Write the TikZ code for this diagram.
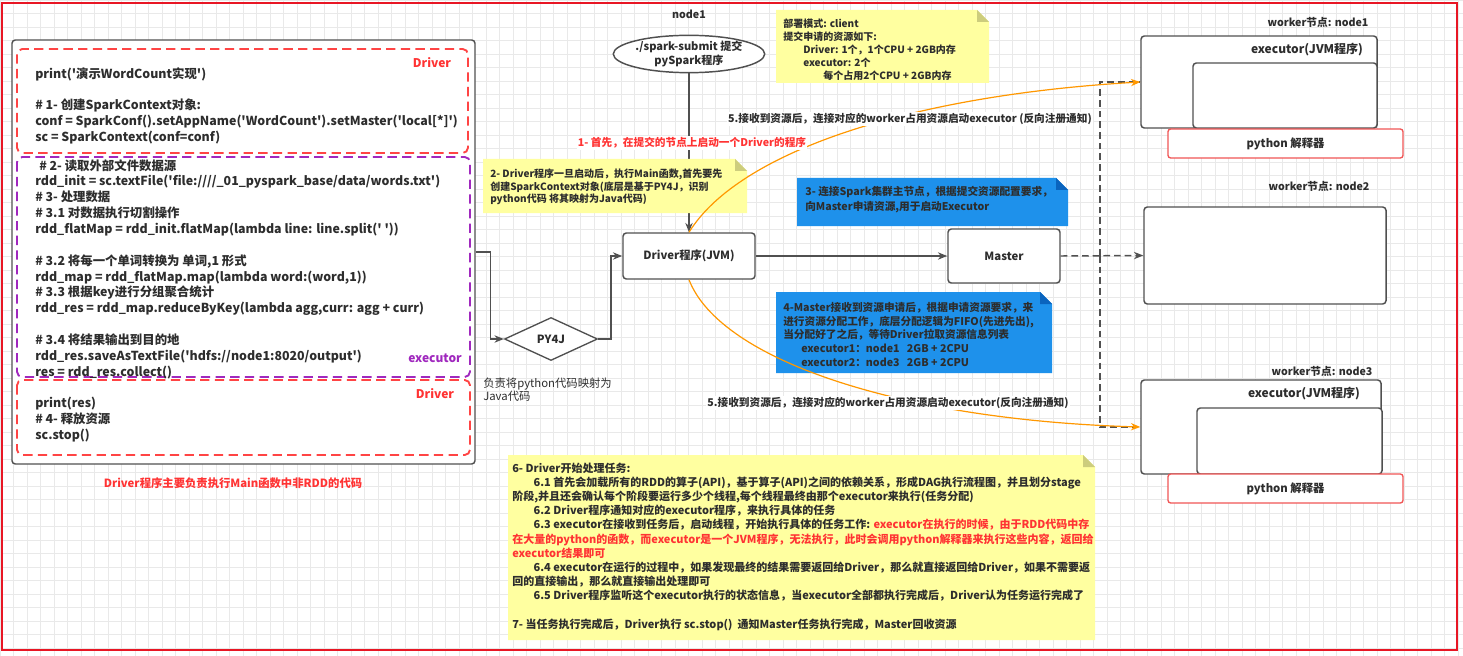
\documentclass[tikz,border=0pt]{standalone}
\usepackage{fontspec}
\setmainfont{Noto Sans CJK SC}[Ligatures=TeXOff]
\usetikzlibrary{shapes.geometric,arrows.meta}
\definecolor{framered}{RGB}{232,22,36}
\definecolor{dashred}{RGB}{255,68,68}
\definecolor{textred}{RGB}{255,51,51}
\definecolor{purp}{RGB}{160,40,190}
\definecolor{boxgray}{RGB}{80,80,80}
\definecolor{textdark}{RGB}{45,45,45}
\definecolor{orangec}{RGB}{255,152,0}
\definecolor{noteyel}{RGB}{255,255,160}
\definecolor{notefold}{RGB}{205,205,125}
\definecolor{noteblue}{RGB}{30,145,235}
\definecolor{bluefold}{RGB}{10,100,190}
\definecolor{gridc}{RGB}{233,233,233}
\definecolor{pyred}{RGB}{240,85,85}
\newcommand\fsz[2]{\fontsize{#1}{#2}\selectfont}
\newcommand\drawnote[6]{%
  \fill[#5] (#1,#2) -- (#3-12,#2) -- (#3,#2+12) -- (#3,#4) -- (#1,#4) -- cycle;
  \fill[#6] (#3-12,#2) -- (#3-12,#2+12) -- (#3,#2+12) -- cycle;}
\begin{document}
\begin{tikzpicture}[x=0.75pt,y=-0.75pt,
  every node/.style={text=textdark},
  box/.style={draw=boxgray, line width=1.1pt, rounded corners=2.5pt, fill=white, inner sep=0pt},
  pybox/.style={draw=pyred, line width=1pt, rounded corners=2pt, fill=white, inner sep=0pt,
     minimum width=176.25pt, minimum height=21.75pt, font=\fsz{8.5}{10}\bfseries},
  bold8/.style={font=\fsz{8}{10}\bfseries, inner sep=0pt},
  bold9/.style={font=\fsz{9}{11}\bfseries, inner sep=0pt},
  codetxt/.style={font=\fsz{9.3}{11.9}\bfseries, anchor=north west, align=left, inner sep=0pt},
  lblred/.style={font=\fsz{9}{11}\bfseries, text=textred, inner sep=0pt},
  lblpurp/.style={font=\fsz{9}{11}\bfseries, text=purp, inner sep=0pt},
  edgelbl/.style={font=\fsz{8}{10}\bfseries, fill=white, inner sep=1pt},
  notetxt/.style={anchor=north west, align=left, inner sep=0pt},
  reddash/.style={draw=dashred, line width=1.4pt, dash pattern=on 7pt off 4pt, rounded corners=4pt},
  purpdash/.style={draw=purp, line width=1.4pt, dash pattern=on 7pt off 4pt, rounded corners=4pt},
  arr/.style={draw=boxgray, line width=1.1pt, -{Stealth[length=7pt,width=5.5pt]}},
  dashc/.style={draw=boxgray, line width=1.1pt, dash pattern=on 5pt off 3pt},
  curve/.style={draw=orangec, line width=0.9pt, -{Stealth[length=7pt,width=5.5pt]}}
]
\useasboundingbox (0,0) rectangle (1463,656);
\fill[white] (0,0) rectangle (1463,656);
\foreach \gx in {0,13.5,...,1463} \draw[gridc,line width=0.4pt] (\gx,0) -- (\gx,656);
\foreach \gy in {0,13.5,...,656} \draw[gridc,line width=0.4pt] (0,\gy) -- (1463,\gy);

% ---------- code box ----------
\node[box, minimum width=347.25pt, minimum height=318pt] (code) at (243.5,252) {};
\draw[reddash] (17,49) rectangle (468,153);
\draw[purpdash] (17,157) rectangle (470,377);
\draw[reddash] (17,380) rectangle (470,455);
\node[lblred] (drvtag1) at (432,63) {Driver};
\node[lblpurp] (exetag) at (435,358) {executor};
\node[lblred] (drvtag2) at (435,394) {Driver};

\node[codetxt] (c1) at (35,67) {print('演示WordCount实现')\\[11.9pt]
\# 1- 创建SparkContext对象:\\
conf = SparkConf().setAppName('WordCount').setMaster('local[*]')\\
sc = SparkContext(conf=conf)};

\node[codetxt] (c2) at (35,159) {\hspace*{3pt}\# 2- 读取外部文件数据源\\
rdd\_init = sc.textFile('file:////\_01\_pyspark\_base/data/words.txt')\\
\# 3- 处理数据\\
\# 3.1 对数据执行切割操作\\
rdd\_flatMap = rdd\_init.flatMap(lambda line: line.split(' '))\\[11.9pt]
\# 3.2 将每一个单词转换为 单词,1 形式\\
rdd\_map = rdd\_flatMap.map(lambda word:(word,1))\\
\# 3.3 根据key进行分组聚合统计\\
rdd\_res = rdd\_map.reduceByKey(lambda agg,curr: agg + curr)\\[11.9pt]
\# 3.4 将结果输出到目的地\\
rdd\_res.saveAsTextFile('hdfs://node1:8020/output')\\
res = rdd\_res.collect()};

\node[codetxt] (c3) at (35,397) {print(res)\\
\# 4- 释放资源\\
sc.stop()};

\node[font=\fsz{8.5}{10}\bfseries, text=textred, inner sep=0pt] (cap) at (233,483)
  {Driver程序主要负责执行Main函数中非RDD的代码};

% ---------- PY4J ----------
\node[diamond, draw=boxgray, line width=1pt, fill=white, minimum width=69.75pt, minimum height=32.25pt,
  inner sep=0pt, font=\fsz{8.5}{10}\bfseries] (py) at (551,339) {PY4J};
\node[notetxt, font=\fsz{8.5}{9.75}] (pycap) at (483,378) {负责将python代码映射为\\Java代码};

% ---------- main nodes ----------
\node[bold8] (n1) at (689,14) {node1};
\node[ellipse, draw=boxgray, line width=1.1pt, fill=white, minimum width=110pt, minimum height=28pt,
  inner sep=0pt, align=center, font=\fsz{8.3}{10.3}\bfseries] (sub) at (689,54) {./spark-submit 提交\\pySpark程序};
\node[box, minimum width=99pt, minimum height=34.5pt, font=\fsz{8.5}{10}\bfseries] (drv) at (689,256) {Driver程序(JVM)};
\node[box, minimum width=84pt, minimum height=40.5pt, font=\fsz{8.5}{10}\bfseries] (mst) at (1004,256) {Master};

% ---------- workers ----------
\node[box, minimum width=177pt, minimum height=69pt] (w1) at (1259,82) {};
\node[box, minimum width=138pt, minimum height=48.75pt] (w1in) at (1285,95.5) {};
\node[pybox] (py1) at (1285.5,143.5) {python 解释器};
\node[bold9] (w1exe) at (1307,50) {executor(JVM程序)};
\node[bold8] (w1lbl) at (1318,22) {worker节点: node1};

\node[box, minimum width=181.5pt, minimum height=72.75pt] (w2) at (1265,255.5) {};
\node[bold8] (w2lbl) at (1319,186) {worker节点: node2};

\node[box, minimum width=180pt, minimum height=70.5pt] (w3) at (1261,427) {};
\node[box, minimum width=138.75pt, minimum height=49.5pt] (w3in) at (1289.5,441) {};
\node[pybox] (py3) at (1285.5,488.5) {python 解释器};
\node[bold9] (w3exe) at (1304,394) {executor(JVM程序)};
\node[bold8] (w3lbl) at (1322,371) {worker节点: node3};

% ---------- connectors (grey) ----------
\draw[arr] (code.east) -- ++(15,0) |- (py.west);
\draw[arr] (py.east) -- ++(13,0) |- (drv.west);
\draw[arr] (sub.south) -- (drv.north);
\draw[arr] (drv.east) -- (mst.west);
\coordinate (split) at (1100,256);
\draw[dashc, -{Stealth[length=7pt,width=5.5pt]}] (mst.east) -- (w2.west);
\draw[dashc] (split) |- (w1.west);
\draw[dashc] (split) |- (w3.west);

% ---------- notes ----------
\drawnote{776}{10}{989}{83}{noteyel}{notefold}
\node[notetxt, font=\fsz{7.5}{9.75}\bfseries] (deploy) at (783,19) {部署模式: client\\
提交申请的资源如下:\\
\hspace*{15pt}Driver: 1个，1个CPU + 2GB内存\\
\hspace*{15pt}executor: 2个\\
\hspace*{30pt}每个占用2个CPU + 2GB内存};

\drawnote{483}{159}{747}{213}{noteyel}{notefold}
\node[notetxt, font=\fsz{7.5}{9.4}\bfseries] (note2) at (490,169) {2- Driver程序一旦启动后，执行Main函数,首先要先\\
创建SparkContext对象(底层是基于PY4J，识别\\
python代码 将其映射为Java代码)};

\drawnote{797}{178}{1068}{226}{noteblue}{bluefold}
\node[notetxt, font=\fsz{8}{11.25}\bfseries] (note3) at (805,186) {3- 连接Spark集群主节点，根据提交资源配置要求，\\
向Master申请资源,用于启动Executor};

\drawnote{776}{292}{1052}{373}{noteblue}{bluefold}
\node[notetxt, font=\fsz{8}{10.3}\bfseries] (note4) at (783,302) {4-Master接收到资源申请后，根据申请资源要求，来\\
进行资源分配工作，底层分配逻辑为FIFO(先进先出),\\
当分配好了之后，等待Driver拉取资源信息列表\\
\hspace*{13.5pt}executor1：node1\ \ \ 2GB + 2CPU\\
\hspace*{13.5pt}executor2：node3\ \ \ 2GB + 2CPU};

\drawnote{508}{455}{1095}{640}{noteyel}{notefold}
\node[notetxt, font=\fsz{8.25}{10.65}\bfseries] (note6) at (512,462.5) {6- Driver开始处理任务:\\
\hspace*{16pt}6.1 首先会加载所有的RDD的算子(API)，基于算子(API)之间的依赖关系，形成DAG执行流程图，并且划分stage\\
阶段,并且还会确认每个阶段要运行多少个线程,每个线程最终由那个executor来执行(任务分配)\\
\hspace*{16pt}6.2 Driver程序通知对应的executor程序，来执行具体的任务\\
\hspace*{16pt}6.3 executor在接收到任务后，启动线程，开始执行具体的任务工作: \textcolor{textred}{executor在执行的时候，由于RDD代码中存}\\
\textcolor{textred}{在大量的python的函数，而executor是一个JVM程序，无法执行，此时会调用python解释器来执行这些内容，返回给}\\
\textcolor{textred}{executor结果即可}\\
\hspace*{16pt}6.4 executor在运行的过程中，如果发现最终的结果需要返回给Driver，那么就直接返回给Driver，如果不需要返\\
回的直接输出，那么就直接输出处理即可\\
\hspace*{16pt}6.5 Driver程序监听这个executor执行的状态信息，当executor全部都执行完成后，Driver认为任务运行完成了\\[10.65pt]
7- 当任务执行完成后，Driver执行 sc.stop()\ \ 通知Master任务执行完成，Master回收资源};

% ---------- orange curves ----------
\draw[curve] (drv.north) .. controls (740,150) and (915,95) .. (w1.west);
\draw[curve] (drv.south) .. controls (720,360) and (900,420) .. (w3.west);

% ---------- edge labels ----------
\node[edgelbl] (l5a) at (910,119) {5.接收到资源后，连接对应的worker占用资源启动executor (反向注册通知)};
\node[edgelbl] (l5b) at (888,403) {5.接收到资源后，连接对应的worker占用资源启动executor(反向注册通知)};
\node[edgelbl, text=textred] (l1) at (692,143) {1- 首先，在提交的节点上启动一个Driver的程序};

% ---------- frame ----------
\draw[framered, line width=1.6pt] (2,3) rectangle (1457,650);
\end{tikzpicture}
\end{document}
